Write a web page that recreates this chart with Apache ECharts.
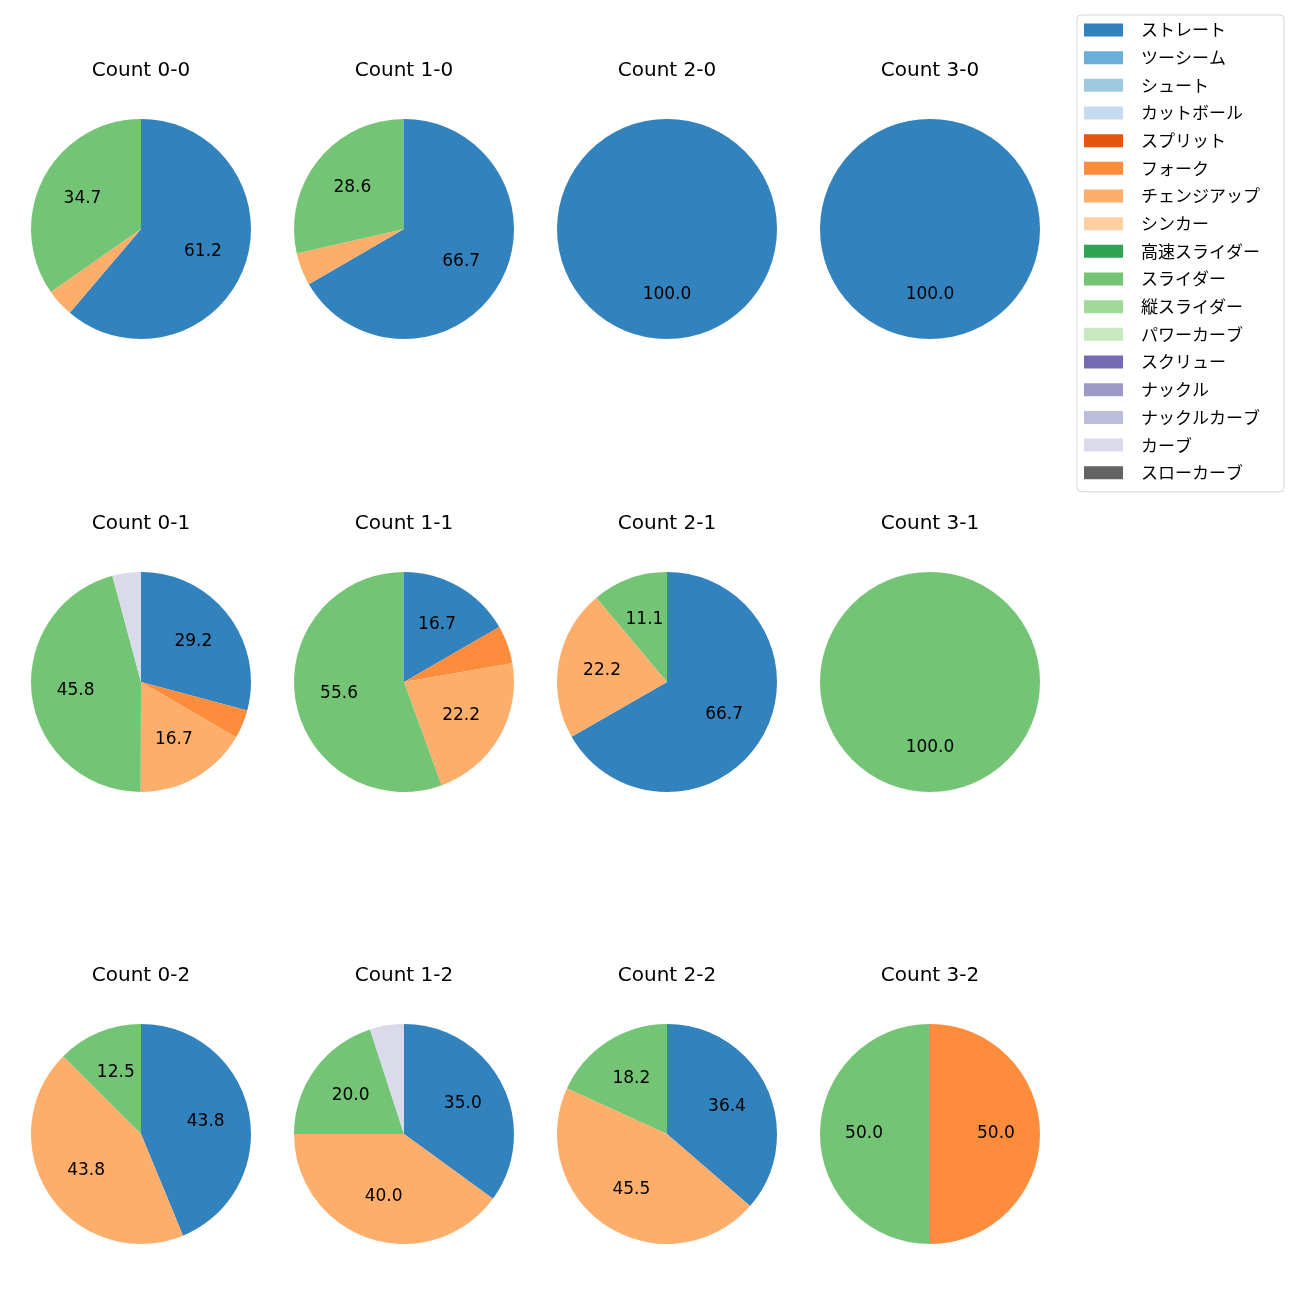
<!DOCTYPE html>
<html>
<head>
<meta charset="utf-8">
<script src="https://cdn.jsdelivr.net/npm/echarts@6/dist/echarts.min.js"></script>
<style>html,body{margin:0;padding:0;background:#fff}#c{width:1300px;height:1300px}</style>
</head>
<body>
<div id="c"></div>
<script>
const pitchTypes = ['ストレート','ツーシーム','シュート','カットボール','スプリット','フォーク','チェンジアップ','シンカー','高速スライダー','スライダー','縦スライダー','パワーカーブ','スクリュー','ナックル','ナックルカーブ','カーブ','スローカーブ'];
const pitchColors = ['#3182bd','#6baed6','#9ecae1','#c6dbef','#e6550d','#fd8d3c','#fdae6b','#fdd0a2','#31a354','#74c476','#a1d99b','#c7e9c0','#756bb1','#9e9ac8','#bcbddc','#dadaeb','#636363'];

// percentages per pitch type (order = pitchTypes)
const count00 = [61.2,0,0,0,0,0,4.1,0,0,34.7,0,0,0,0,0,0,0];
const count10 = [66.7,0,0,0,0,0,4.8,0,0,28.6,0,0,0,0,0,0,0];
const count20 = [100,0,0,0,0,0,0,0,0,0,0,0,0,0,0,0,0];
const count30 = [100,0,0,0,0,0,0,0,0,0,0,0,0,0,0,0,0];
const count01 = [29.2,0,0,0,0,4.2,16.7,0,0,45.8,0,0,0,0,0,4.2,0];
const count11 = [16.7,0,0,0,0,5.6,22.2,0,0,55.6,0,0,0,0,0,0,0];
const count21 = [66.7,0,0,0,0,0,22.2,0,0,11.1,0,0,0,0,0,0,0];
const count31 = [0,0,0,0,0,0,0,0,0,100,0,0,0,0,0,0,0];
const count02 = [43.8,0,0,0,0,0,43.8,0,0,12.5,0,0,0,0,0,0,0];
const count12 = [35.0,0,0,0,0,0,40.0,0,0,20.0,0,0,0,0,0,5.0,0];
const count22 = [36.4,0,0,0,0,0,45.5,0,0,18.2,0,0,0,0,0,0,0];
const count32 = [0,0,0,0,0,50,0,0,0,50,0,0,0,0,0,0,0];

const countTitles = ['Count 0-0','Count 1-0','Count 2-0','Count 3-0',
                     'Count 0-1','Count 1-1','Count 2-1','Count 3-1',
                     'Count 0-2','Count 1-2','Count 2-2','Count 3-2'];
const countData = [count00,count10,count20,count30,count01,count11,count21,count31,count02,count12,count22,count32];

const colX = [141, 404, 667, 930];
const rowY = [229, 682, 1134];
const R = 110;
const LATIN = '"DejaVu Sans", "Noto Sans", sans-serif';
const CJK = '"Noto Sans CJK JP", "Noto Sans", sans-serif';

const titles = [];
const pieSeries = [];
const labelSeries = [];
countData.forEach((vals, i) => {
  const cx = colX[i % 4], cy = rowY[Math.floor(i / 4)];
  titles.push({
    text: countTitles[i], left: cx, top: cy - 168, textAlign: 'center', padding: 0,
    textStyle: {fontFamily: LATIN, fontSize: 20, fontWeight: 'normal', color: '#000', lineHeight: 20}
  });
  const data = pitchTypes.map((n, k) => ({name: n, value: vals[k], itemStyle: {color: pitchColors[k]}}));
  pieSeries.push({
    type: 'pie', center: [cx, cy], radius: [0, R], startAngle: 90, clockwise: true,
    avoidLabelOverlap: false, silent: true, animation: false,
    itemStyle: {borderWidth: 0},
    label: {show: false}, labelLine: {show: false},
    emphasis: {disabled: true},
    data: data
  });
  labelSeries.push({
    type: 'pie', center: [cx, cy], radius: [R * 0.145, R], startAngle: 90, clockwise: true,
    avoidLabelOverlap: false, silent: true, animation: false, z: 5,
    itemStyle: {borderWidth: 0, color: 'rgba(0,0,0,0)'},
    label: {
      show: true, position: 'inside', fontFamily: LATIN, fontSize: 17, color: '#000', lineHeight: 17,
      formatter: p => (p.value > 6 ? p.value.toFixed(1) : '')
    },
    labelLine: {show: false},
    emphasis: {disabled: true},
    data: pitchTypes.map((n, k) => ({name: n, value: vals[k], itemStyle: {color: 'rgba(0,0,0,0)'}}))
  });
});

const chart = echarts.init(document.getElementById('c'), null, {renderer: 'canvas'});
chart.setOption({
  backgroundColor: '#fff',
  animation: false,
  title: titles,
  legend: {
    data: pitchTypes,
    orient: 'vertical', left: 1077, top: 15,
    padding: [5, 24, 9, 7],
    backgroundColor: '#fff', borderColor: '#d6d6d6', borderWidth: 1, borderRadius: 4,
    icon: 'rect', itemWidth: 39, itemHeight: 13, itemGap: 7.67,
    selectedMode: false,
    textStyle: {fontFamily: CJK, fontSize: 17, color: '#000', lineHeight: 20, padding: [0, 0, 0, 13]}
  },
  series: pieSeries.concat(labelSeries)
});
</script>
</body>
</html>
